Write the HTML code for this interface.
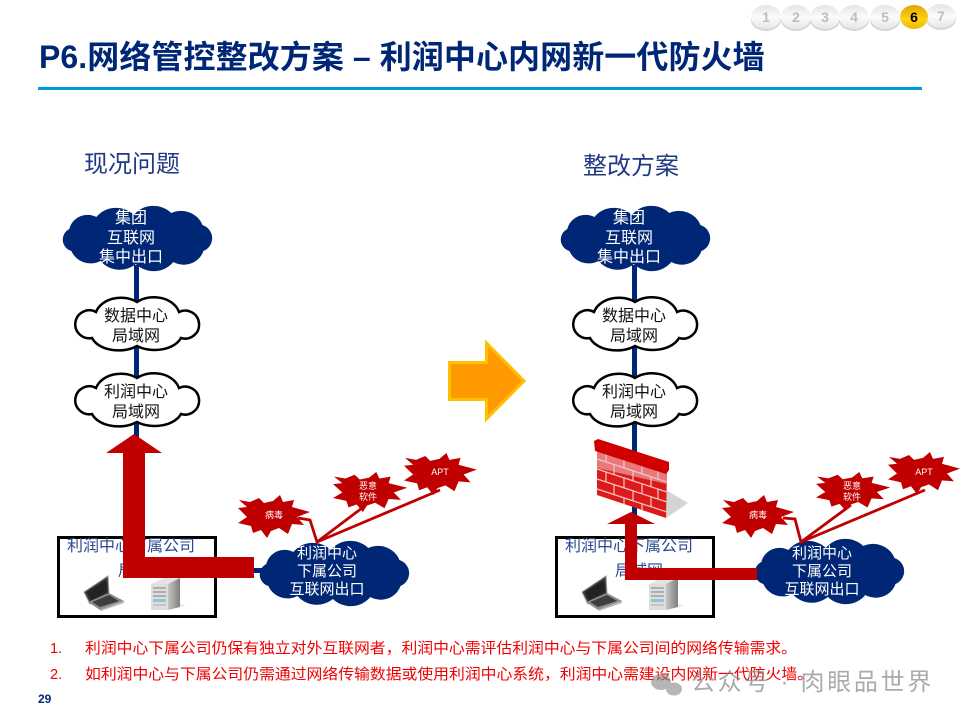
<!DOCTYPE html>
<html lang="zh">
<head>
<meta charset="utf-8">
<style>
html,body{margin:0;padding:0;background:#fff;width:960px;height:720px;overflow:hidden}
svg{display:block}
text{font-family:"Liberation Sans","Noto Sans CJK SC",sans-serif}
.c16{font-size:16px;text-anchor:middle}
.c15{font-size:15px;text-anchor:middle;fill:#fff}
.s9{font-size:9px;text-anchor:middle;fill:#fff}
.nav{font-size:14px;font-weight:bold;text-anchor:middle;fill:#bdbdbd}
.red{font-size:14.6px;fill:#f00000}
.head{font-size:24px;fill:#1f3a83}
.lbl{font-size:16px;fill:#2a4a8f}
</style>
</head>
<body>
<svg width="960" height="720" viewBox="0 0 960 720" xmlns="http://www.w3.org/2000/svg">
<defs>
<path id="bc" d="M8 24A18 18 0 0 1 34 12A24 24 0 0 1 70 10A24 24 0 0 1 106 8A22 22 0 0 1 136 20A14 14 0 0 1 137 46A20 20 0 0 1 108 57A24 24 0 0 1 72 59A24 24 0 0 1 38 56A20 20 0 0 1 10 46A12 12 0 0 1 8 24Z"/>
<path id="wc" d="M22 16A26 20 0 0 1 63 6A26 20 0 0 1 105 16A14 14 0 1 1 107 42A28 18 0 0 1 63 50A28 18 0 0 1 18 42A14 14 0 1 1 22 16Z"/>
<polygon id="st" points="1,5 12,7 21,3 26,8 35,6 42,0 45,7 56,5 54,12 72,17 59,22 66,30 54,29 50,39 41,33 33,36 29,43 23,35 15,38 13,31 0,28 9,22 0,13 9,12"/>
<linearGradient id="srv" x1="0" y1="0" x2="1" y2="0"><stop offset="0" stop-color="#c4c4c4"/><stop offset="1" stop-color="#7f7f7f"/></linearGradient>
<g id="laptop">
<polygon points="1,17 25,1 26,19 7,29" fill="#3a3a3a" stroke="#9a9a9a" stroke-width="1"/>
<polygon points="4,17 23,5 24,17 8,26" fill="#222"/>
<polygon points="5,27 26,18 41,26 17,35" fill="#8d8d8d"/>
<polygon points="9,27 26,20 36,26 17,32" fill="#3d3d3d"/>
<polygon points="17,35 41,26 41,28 18,36" fill="#bbb"/>
</g>
<g id="server">
<polygon points="1,6 18,6 32,0 14,0" fill="#e4e4e4"/>
<polygon points="1,6 18,6 18,32 1,32" fill="#dedede"/>
<polygon points="18,6 30,0 30,29 18,32" fill="url(#srv)"/>
<g fill="#aeaeae">
<rect x="3" y="9" width="13" height="2"/><rect x="3" y="13" width="13" height="2"/><rect x="3" y="17" width="13" height="2"/>
</g>
<rect x="3" y="21" width="13" height="3" fill="#8ec6d2"/>
<rect x="3" y="26" width="13" height="2" fill="#c6c6c6"/>
<polygon points="30,29 36,28 32,26 30,26" fill="#e9e9e9"/>
</g>
<clipPath id="wallclip"><polygon points="597,447 667,470 666,518 597,495"/></clipPath>
<linearGradient id="pill" x1="0" y1="0" x2="0" y2="1"><stop offset="0" stop-color="#e4e4e4"/><stop offset=".5" stop-color="#fbfbfb"/><stop offset="1" stop-color="#e6e6e6"/></linearGradient>
<linearGradient id="pillY" x1="0" y1="0" x2="0" y2="1"><stop offset="0" stop-color="#e2a400"/><stop offset=".6" stop-color="#ffd21a"/><stop offset="1" stop-color="#f2b600"/></linearGradient>
</defs>

<!-- nav pills -->
<g>
<ellipse cx="766" cy="20" rx="15" ry="11" fill="#bbb" opacity=".6"/>
<ellipse cx="796" cy="20" rx="15" ry="11" fill="#bbb" opacity=".6"/>
<ellipse cx="825" cy="20" rx="15" ry="11" fill="#bbb" opacity=".6"/>
<ellipse cx="854" cy="20" rx="15" ry="11" fill="#bbb" opacity=".6"/>
<ellipse cx="885" cy="20" rx="15" ry="11" fill="#bbb" opacity=".6"/>
<ellipse cx="941" cy="19" rx="15" ry="11" fill="#bbb" opacity=".6"/>
<ellipse cx="766" cy="17" rx="15" ry="12" fill="url(#pill)"/>
<ellipse cx="796" cy="17" rx="15" ry="12" fill="url(#pill)"/>
<ellipse cx="825" cy="17" rx="15" ry="12" fill="url(#pill)"/>
<ellipse cx="854" cy="17" rx="15" ry="12" fill="url(#pill)"/>
<ellipse cx="885" cy="17" rx="15" ry="12" fill="url(#pill)"/>
<ellipse cx="941" cy="16" rx="15" ry="12" fill="url(#pill)"/>
<ellipse cx="914" cy="17" rx="14" ry="12" fill="url(#pillY)"/>
<text class="nav" x="766" y="22">1</text>
<text class="nav" x="796" y="22">2</text>
<text class="nav" x="825" y="22">3</text>
<text class="nav" x="854" y="22">4</text>
<text class="nav" x="885" y="22">5</text>
<text class="nav" x="914" y="22" style="fill:#000">6</text>
<text class="nav" x="941" y="21">7</text>
</g>

<!-- title -->
<text x="39" y="68" font-size="32" font-weight="bold" fill="#002776" letter-spacing=".08" xml:space="preserve">P6.网络管控整改方案 – 利润中心内网新一代防火墙</text>
<rect x="38" y="87" width="884" height="3" fill="#009bdb"/>
<text class="head" x="84" y="172">现况问题</text>
<text class="head" x="583" y="174">整改方案</text>

<!-- LEFT -->
<rect x="134" y="265" width="5" height="175" fill="#002776"/>
<use href="#bc" transform="translate(61,205) scale(1.04,1)" fill="#002776"/>
<use href="#wc" transform="translate(74,296)" fill="#fff" stroke="#000" stroke-width="2.5"/>
<use href="#wc" transform="translate(74,372)" fill="#fff" stroke="#000" stroke-width="2.5"/>
<text class="c16" x="131" y="223" fill="#fff">集团</text>
<text class="c16" x="131" y="243" fill="#fff">互联网</text>
<text class="c16" x="131" y="262" fill="#fff">集中出口</text>
<text class="c16" x="136" y="321" fill="#111">数据中心</text>
<text class="c16" x="136" y="341" fill="#111">局域网</text>
<text class="c16" x="136" y="397" fill="#111">利润中心</text>
<text class="c16" x="136" y="417" fill="#111">局域网</text>

<rect x="58.500" y="537.500" width="157" height="79" fill="#fff" stroke="#000" stroke-width="3"/>
<text class="lbl" x="67" y="551">利润中心下属公司</text>
<text class="lbl" x="118" y="576">局域网</text>
<use href="#laptop" x="83" y="575"/>
<use href="#server" x="150" y="578"/>

<rect x="250" y="568" width="16" height="5" fill="#002776"/>
<use href="#bc" transform="translate(258,540) scale(1.04,1)" fill="#002776"/>
<text class="c15" x="327" y="558">利润中心</text>
<text class="c15" x="327" y="576">下属公司</text>
<text class="c15" x="327" y="594">互联网出口</text>

<g fill="none" stroke="#c00000" stroke-width="2.800">
<polyline points="298,518 310,520 317,542 366,505"/>
<polyline points="317,542 440,490"/>
</g>
<use href="#st" transform="translate(238,495)" fill="#c00000"/>
<use href="#st" transform="translate(333,472) scale(1.03,.93)" fill="#c00000"/>
<use href="#st" transform="translate(404,453) scale(1.01,.98)" fill="#c00000"/>
<text class="s9" x="274" y="518">病毒</text>
<text class="s9" x="368" y="489">恶意</text>
<text class="s9" x="368" y="500">软件</text>
<text class="s9" x="440" y="475">APT</text>

<polygon points="134,434 162,453 145,453 145,557 254,557 254,578 123,578 123,453 106,453" fill="#c00000"/>

<!-- orange arrow -->
<polygon points="449.500,362.500 486.500,362.500 486.500,343 524,381 486.500,419 486.500,399.500 449.500,399.500" fill="#ff9900" stroke="#ffc000" stroke-width="3"/>

<!-- RIGHT -->
<rect x="632" y="265" width="5" height="265" fill="#002776"/>
<use href="#bc" transform="translate(559,205) scale(1.04,1)" fill="#002776"/>
<use href="#wc" transform="translate(572,296)" fill="#fff" stroke="#000" stroke-width="2.5"/>
<use href="#wc" transform="translate(572,372)" fill="#fff" stroke="#000" stroke-width="2.5"/>
<text class="c16" x="629" y="223" fill="#fff">集团</text>
<text class="c16" x="629" y="243" fill="#fff">互联网</text>
<text class="c16" x="629" y="262" fill="#fff">集中出口</text>
<text class="c16" x="634" y="321" fill="#111">数据中心</text>
<text class="c16" x="634" y="341" fill="#111">局域网</text>
<text class="c16" x="634" y="397" fill="#111">利润中心</text>
<text class="c16" x="634" y="417" fill="#111">局域网</text>

<!-- firewall -->
<polygon points="666,490 688,503 666,518" fill="#d4d4d4"/>
<polygon points="597,447 667,470 666,518 597,495" fill="#dc1a1a"/>
<g clip-path="url(#wallclip)">
<polygon points="597,447 667,470 667,484 597,468" fill="#e8787c"/>
<g stroke="#f3c8c8" stroke-width="1.200" fill="none">
<line x1="597" y1="459" x2="667" y2="482"/>
<line x1="597" y1="469" x2="667" y2="492"/>
<line x1="597" y1="479" x2="667" y2="502"/>
<line x1="597" y1="489" x2="667" y2="512"/>
<line x1="606" y1="451" x2="606" y2="462"/><line x1="624" y1="457" x2="624" y2="468"/><line x1="642" y1="463" x2="642" y2="474"/><line x1="658" y1="468" x2="658" y2="479"/>
<line x1="614" y1="465" x2="614" y2="475"/><line x1="633" y1="471" x2="633" y2="481"/><line x1="651" y1="477" x2="651" y2="487"/>
<line x1="606" y1="472" x2="606" y2="482"/><line x1="624" y1="478" x2="624" y2="488"/><line x1="642" y1="484" x2="642" y2="494"/><line x1="658" y1="489" x2="658" y2="499"/>
<line x1="614" y1="485" x2="614" y2="495"/><line x1="633" y1="491" x2="633" y2="501"/><line x1="651" y1="497" x2="651" y2="507"/>
<line x1="624" y1="498" x2="624" y2="508"/><line x1="642" y1="504" x2="642" y2="514"/>
</g>
</g>
<polygon points="594,441 598,439 669,462 669,470 666,474 595,451" fill="#d00000"/>

<rect x="556.500" y="537.500" width="157" height="79" fill="#fff" stroke="#000" stroke-width="3"/>
<text class="lbl" x="565" y="551">利润中心下属公司</text>
<text class="lbl" x="615" y="576">局域网</text>
<use href="#laptop" x="581" y="575"/>
<use href="#server" x="648" y="578"/>

<use href="#bc" transform="translate(753,538) scale(1.04,1)" fill="#002776"/>
<text class="c15" x="822" y="558">利润中心</text>
<text class="c15" x="822" y="576">下属公司</text>
<text class="c15" x="822" y="594">互联网出口</text>

<g fill="none" stroke="#c00000" stroke-width="2.800">
<polyline points="783,518 795,519 801,542 851,505"/>
<polyline points="801,542 925,490"/>
</g>
<use href="#st" transform="translate(722,495)" fill="#c00000"/>
<use href="#st" transform="translate(816,472) scale(1.03,.91)" fill="#c00000"/>
<use href="#st" transform="translate(888,452) scale(1,.98)" fill="#c00000"/>
<text class="s9" x="758" y="518">病毒</text>
<text class="s9" x="852" y="489">恶意</text>
<text class="s9" x="852" y="500">软件</text>
<text class="s9" x="924" y="475">APT</text>

<polygon points="631,512 655,524 637,524 637,568 757,568 757,580 625,580 625,524 607,524" fill="#c00000"/>

<!-- bottom text -->
<text class="red" x="50" y="653">1.</text>
<text class="red" x="85" y="653" textLength="712" lengthAdjust="spacingAndGlyphs">利润中心下属公司仍保有独立对外互联网者，利润中心需评估利润中心与下属公司间的网络传输需求。</text>
<text class="red" x="50" y="679">2.</text>
<text class="red" x="85" y="679" textLength="728" lengthAdjust="spacingAndGlyphs">如利润中心与下属公司仍需通过网络传输数据或使用利润中心系统，利润中心需建设内网新一代防火墙。</text>
<text x="38" y="703" font-size="12" font-weight="bold" fill="#002776">29</text>

<!-- watermark -->
<g opacity=".62" fill="#8a8a8a">
<ellipse cx="661" cy="682" rx="10" ry="8"/>
<ellipse cx="674" cy="689" rx="8" ry="6.500"/>
</g>
<text x="691" y="690" font-size="24" fill="#8a8a8a" opacity=".72" letter-spacing="2.700">公众号 · 肉眼品世界</text>
</svg>
</body>
</html>
